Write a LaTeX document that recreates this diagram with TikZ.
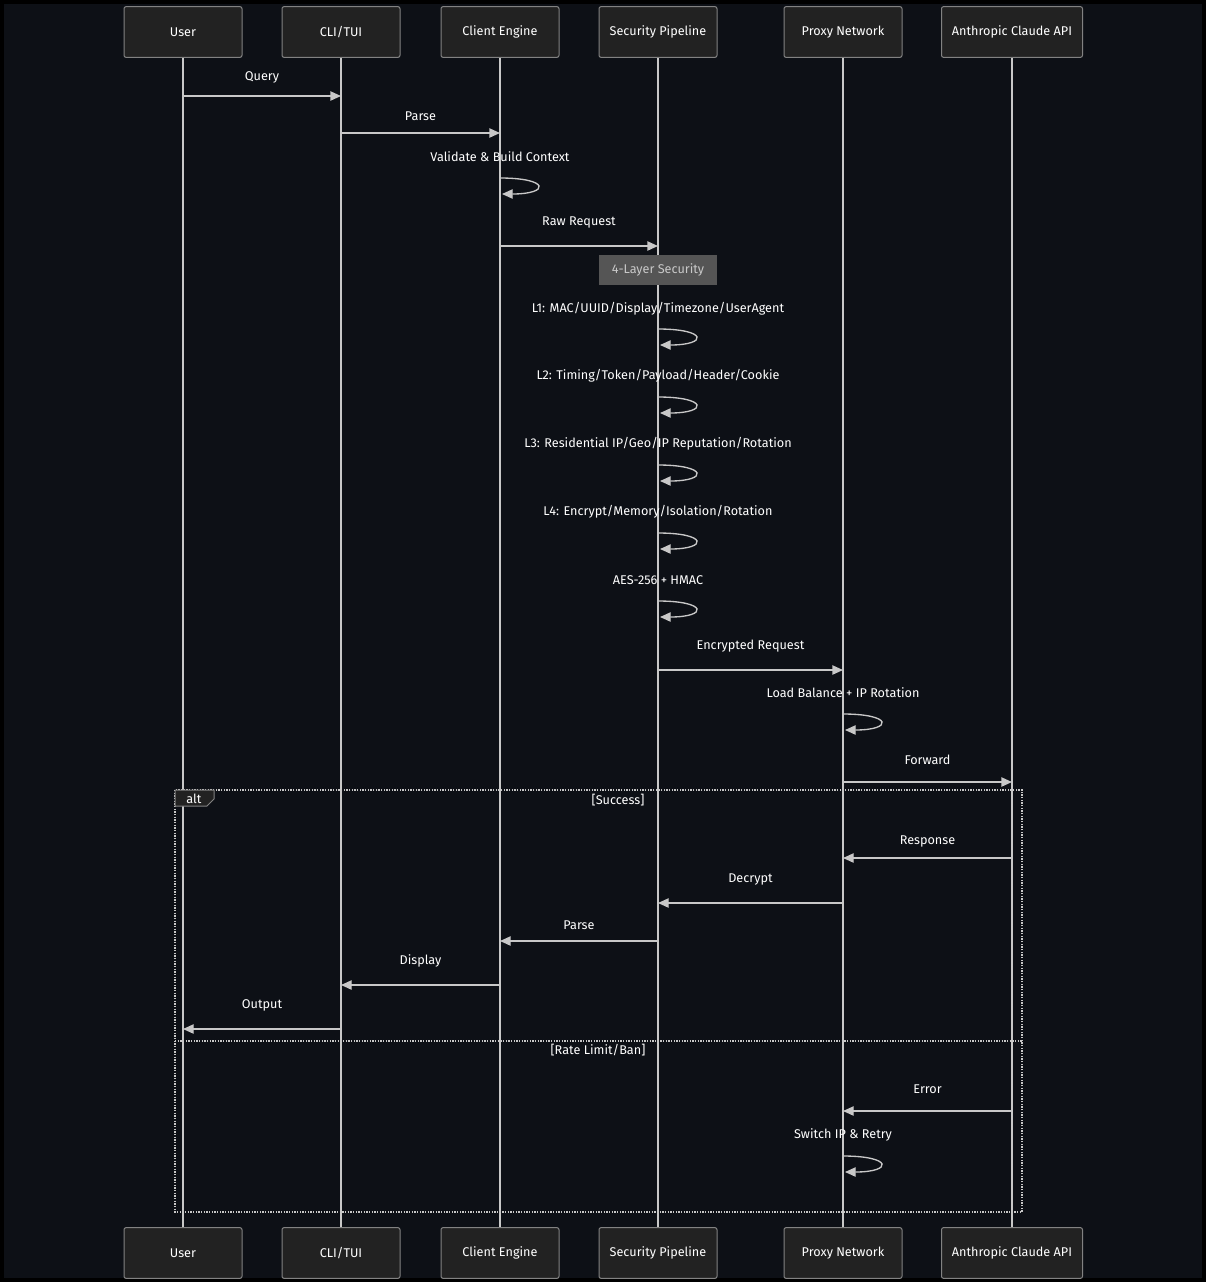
\documentclass[tikz,border=0pt]{standalone}
\usepackage{fontspec}
\setmainfont{Fira Sans}
\usetikzlibrary{arrows.meta,calc}
\definecolor{bgdark}{RGB}{13,16,22}
\definecolor{boxfill}{RGB}{34,34,34}
\definecolor{boxline}{RGB}{130,130,130}
\definecolor{wire}{RGB}{200,200,200}
\definecolor{notefill}{RGB}{85,85,85}
\tikzset{every picture/.style={line width=0.75pt}}
\tikzset{
  actor/.style={draw=boxline,fill=boxfill,rounded corners=1.5pt,minimum height=38pt,text=white,font=\fontsize{9.5}{11}\selectfont,inner sep=0pt},
  life/.style={draw=wire,line width=1.2pt},
  msg/.style={draw=wire,line width=1pt,-{Triangle[length=8pt,width=7pt]}},
  lbl/.style={text=white,font=\fontsize{9.5}{11}\selectfont,inner sep=0.75pt},
  frame/.style={draw=wire,densely dotted,line width=1pt}
}
\newcommand{\selfloop}[3]{% lifeline, top y, bottom y
  \draw[msg] (#1 |- 0,#2) .. controls ($(#1 |- 0,#2)+(50,0)$) and ($(#1 |- 0,#3)+(50,0)$) .. ($(#1 |- 0,#3)+(2,0)$);}
\begin{document}
\begin{tikzpicture}[x=0.75pt,y=0.75pt,yscale=-1,xscale=1]
\fill[black] (0,0) rectangle (1206,1282);
\fill[bgdark] (4,4) rectangle (1202,1278);
\useasboundingbox (0,0) rectangle (1206,1282);

% Participants
\foreach \name/\px in {user/183, cli/341, eng/500, sec/658, prx/843, api/1012}{
  \coordinate (\name) at (\px,0);
}
% Lifelines
\foreach \name in {user,cli,eng,sec,prx,api}{
  \draw[life] (\name |- 0,57) -- (\name |- 0,1228);
}
\foreach \name/\w/\txt in {user/118/User, cli/118/{CLI/TUI}, eng/118/Client Engine, sec/118/Security Pipeline, prx/118/Proxy Network, api/141/Anthropic Claude API}{
  \node[actor,minimum width=\w*0.75pt] (\name-top) at ($(\name)+(0,32)$) {\txt};
  \node[actor,minimum width=\w*0.75pt] (\name-bot) at ($(\name)+(0,1253)$) {\txt};
}

% Messages
\draw[msg] (user |- 0,96) -- (cli |- 0,96) node[lbl,midway,above=8pt] {Query};
\draw[msg] (cli |- 0,133) -- (eng |- 0,133) node[lbl,midway,above=8pt] {Parse};
\node[lbl] (validate) at (500,157) {Validate \& Build Context};
\selfloop{eng}{178}{194}
\draw[msg] (eng |- 0,246) -- (sec |- 0,246) node[lbl,midway,above=12pt] {Raw Request};
\node[fill=notefill,text={rgb,255:red,200;green,200;blue,200},minimum width=88pt,minimum height=22pt,inner sep=0pt,font=\fontsize{9.5}{11}\selectfont] (note) at (658,270) {4-Layer Security};

\node[lbl] (l1) at (658,309) {L1: MAC/UUID/Display/Timezone/UserAgent};
\selfloop{sec}{329}{345}
\node[lbl] (l2) at (658,376) {L2: Timing/Token/Payload/Header/Cookie};
\selfloop{sec}{397}{413}
\node[lbl] (l3) at (658,444) {L3: Residential IP/Geo/IP Reputation/Rotation};
\selfloop{sec}{465}{481}
\node[lbl] (l4) at (658,512) {L4: Encrypt/Memory/Isolation/Rotation};
\selfloop{sec}{533}{549}
\node[lbl] (aes) at (658,580) {AES-256 + HMAC};
\selfloop{sec}{601}{617}

\draw[msg] (sec |- 0,670) -- (prx |- 0,670) node[lbl,midway,above=12pt] {Encrypted Request};
\node[lbl] (balance) at (843,693) {Load Balance + IP Rotation};
\selfloop{prx}{714}{730}
\draw[msg] (prx |- 0,782) -- (api |- 0,782) node[lbl,midway,above=12pt] {Forward};

% alt frame
\draw[frame] (175,790) rectangle (1022,1212);
\draw[draw=boxline,fill=boxfill] (175,790) -- (214,790) -- (214,799) -- (207,806) -- (175,806) -- cycle;
\node[lbl] (alt) at (194,799) {alt};
\node[lbl] (succ) at (618,800) {[Success]};
\draw[msg] (api |- 0,858) -- (prx |- 0,858) node[lbl,midway,above=7pt] {Response};
\draw[msg] (prx |- 0,903) -- (sec |- 0,903) node[lbl,midway,above=12pt] {Decrypt};
\draw[msg] (sec |- 0,941) -- (eng |- 0,941) node[lbl,midway,above=7pt] {Parse};
\draw[msg] (eng |- 0,985) -- (cli |- 0,985) node[lbl,midway,above=12pt] {Display};
\draw[msg] (cli |- 0,1029) -- (user |- 0,1029) node[lbl,midway,above=12pt] {Output};
\draw[frame] (175,1041) -- (1022,1041);
\node[lbl] (rate) at (598,1050) {[Rate Limit/Ban]};
\draw[msg] (api |- 0,1111) -- (prx |- 0,1111) node[lbl,midway,above=12pt] {Error};
\node[lbl] (retry) at (843,1135) {Switch IP \& Retry};
\selfloop{prx}{1156}{1172}
\end{tikzpicture}
\end{document}
